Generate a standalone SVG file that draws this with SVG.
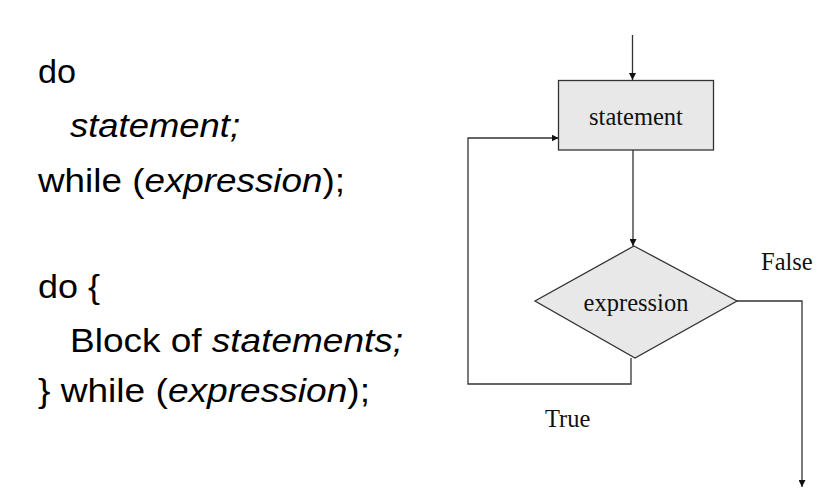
<svg xmlns="http://www.w3.org/2000/svg" width="835" height="492" viewBox="0 0 835 492">
<style>
.code{font-family:"Liberation Sans",Arial,sans-serif;font-size:33px;fill:#000}
.it{font-style:italic}
.lbl{font-family:"Liberation Serif","Times New Roman",serif;font-size:24.5px;fill:#111}
.ln{fill:none;stroke:#333;stroke-width:1.3}
.shape{fill:#e8e8e8;stroke:#333;stroke-width:1.3}
</style>
<defs>
<marker id="ah" viewBox="0 0 10 10" refX="10" refY="5" markerWidth="7" markerHeight="7" markerUnits="userSpaceOnUse" orient="auto">
<path d="M0,0 L10,5 L0,10 z" fill="#111"/>
</marker>
</defs>
<rect width="835" height="492" fill="#fff"/>
<g id="code">
<text class="code" x="38" y="83" textLength="38" lengthAdjust="spacingAndGlyphs">do</text>
<text class="code it" x="70" y="137" textLength="170" lengthAdjust="spacingAndGlyphs">statement;</text>
<text class="code" x="38" y="192" textLength="307" lengthAdjust="spacingAndGlyphs">while (<tspan class="it">expression</tspan>);</text>
<text class="code" x="38" y="298" textLength="62" lengthAdjust="spacingAndGlyphs">do {</text>
<text class="code" x="70" y="352" textLength="333" lengthAdjust="spacingAndGlyphs">Block of <tspan class="it">statements;</tspan></text>
<text class="code" x="38" y="402" textLength="332" lengthAdjust="spacingAndGlyphs">} while (<tspan class="it">expression</tspan>);</text>
</g>
<g id="connectors">
<line class="ln" x1="632.5" y1="35" x2="632.5" y2="80" marker-end="url(#ah)"/>
<line class="ln" x1="633" y1="150" x2="633" y2="246" marker-end="url(#ah)"/>
<polyline class="ln" points="631,358 631,384 468,384 468,138 558.5,138" marker-end="url(#ah)"/>
<polyline class="ln" points="737,301 802,301 802,487" marker-end="url(#ah)"/>
</g>
<g id="statement">
<rect class="shape" x="558.5" y="80.5" width="155" height="69.5"/>
<text class="lbl" x="636" y="125" text-anchor="middle">statement</text>
</g>
<g id="expression">
<polygon class="shape" points="634,246 737,301 635,358 535,301"/>
<text class="lbl" x="636" y="311" text-anchor="middle">expression</text>
</g>
<g id="labels">
<text class="lbl" x="761" y="270">False</text>
<text class="lbl" x="545" y="427">True</text>
</g>
</svg>
